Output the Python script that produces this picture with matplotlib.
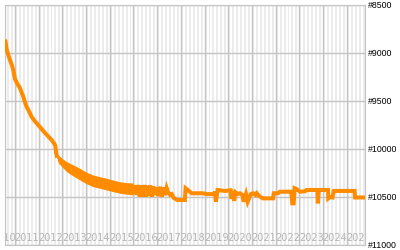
import numpy as np
import matplotlib.pyplot as plt

# rank history (decimal years)
smooth_years = [2010.58, 2010.60, 2010.65, 2010.72, 2010.79, 2010.86, 2010.93, 2011.00,
                2011.10, 2011.21, 2011.28, 2011.35, 2011.42, 2011.49, 2011.60, 2011.70,
                2011.84, 2011.98, 2012.12, 2012.27, 2012.41, 2012.55, 2012.66, 2012.70,
                2012.74, 2012.78]
smooth_ranks = [8860, 8880, 8960, 9020, 9073, 9120, 9177, 9270,
                9320, 9365, 9410, 9455, 9510, 9559, 9610, 9664,
                9710, 9750, 9790, 9833, 9870, 9906, 9945, 9965,
                10040, 10090]

# noisy stretch, drawn as an envelope
band_years = [2012.76, 2012.83, 2013.00, 2013.18, 2013.45, 2013.74, 2014.00, 2014.30,
              2014.60, 2014.87, 2015.15, 2015.43, 2015.70, 2016.00]
band_top = [10060, 10063, 10100, 10132, 10165, 10201, 10240, 10271,
            10290, 10305, 10325, 10341, 10350, 10354]
band_bottom = [10090, 10146, 10190, 10236, 10280, 10323, 10360, 10393,
               10410, 10427, 10445, 10461, 10470, 10479]

tail_years = [2015.98, 2016.03, 2016.08, 2016.15, 2016.20, 2016.27, 2016.33, 2016.40,
              2016.46, 2016.52, 2016.58, 2016.65, 2016.71, 2016.78, 2016.84, 2016.91,
              2016.97, 2017.05, 2017.12, 2017.20, 2017.26, 2017.33, 2017.40, 2017.47,
              2017.55, 2017.62, 2017.70, 2017.85, 2018.03, 2018.17, 2018.20, 2018.38,
              2018.45, 2018.93, 2019.10, 2019.40, 2019.44, 2019.48, 2019.55, 2019.86,
              2020.10, 2020.14, 2020.18, 2020.25, 2020.30, 2020.40, 2020.49, 2020.60,
              2020.65, 2020.75, 2020.82, 2020.95, 2021.05, 2021.15, 2021.20, 2021.34,
              2021.46, 2021.89, 2021.92, 2022.10, 2022.18, 2022.65, 2022.67, 2022.70,
              2022.76, 2022.80, 2022.89, 2023.03, 2023.24, 2023.31, 2023.76, 2023.78,
              2023.82, 2024.21, 2024.22, 2024.29, 2024.40, 2024.45, 2025.33, 2025.35,
              2025.80]
tail_ranks = [10400, 10470, 10380, 10479, 10375, 10497, 10380, 10497,
              10375, 10497, 10385, 10490, 10380, 10497, 10390, 10479,
              10400, 10490, 10393, 10497, 10400, 10480, 10406, 10458,
              10479, 10470, 10510, 10531, 10531, 10531, 10409, 10445,
              10461, 10461, 10470, 10470, 10445, 10549, 10427, 10437,
              10430, 10520, 10440, 10540, 10450, 10470, 10461, 10479,
              10549, 10470, 10549, 10470, 10461, 10479, 10460, 10497,
              10514, 10514, 10461, 10461, 10445, 10445, 10480, 10566,
              10566, 10409, 10420, 10445, 10440, 10427, 10427, 10566,
              10427, 10427, 10514, 10500, 10505, 10437, 10437, 10505,
              10505]

rank_ticks = [8500, 9000, 9500, 10000, 10500, 11000]
years = list(range(2010, 2026))

orange = '#ff8c00'
grid = '#c4c4c4'

fig = plt.figure(figsize=(4, 2.5), dpi=100)
ax = fig.add_axes([0.0125, 0.02, 0.9, 0.96])
x0, x1 = 2010.58, 2025.77
ax.set_xlim(x0, x1)
ax.set_ylim(11000, 8500)

# alternating month stripes
for y in range(2010, 2026):
    for m in range(0, 12, 2):
        ax.axvspan(y + m / 12, y + (m + 1) / 12, color='#ececec', lw=0, zorder=0)

for r in rank_ticks:
    ax.axhline(r, color=grid, lw=1, zorder=1)
for y in years[1:]:
    ax.axvline(y, color=grid, lw=1, zorder=1)

for y in years:
    ax.text(y + 0.5, 10930, str(y), ha='center', va='center', fontsize=7,
            color='#b4b4b4', clip_on=True, zorder=2)

ax.plot(smooth_years, smooth_ranks, color=orange, lw=2.9, zorder=3, solid_capstyle='butt')
ax.fill_between(band_years, band_top, band_bottom, color=orange, lw=0, zorder=3)
ax.plot(tail_years, tail_ranks, color=orange, lw=2.9, zorder=3, solid_joinstyle='miter')

ax.set_xticks([])
ax.yaxis.tick_right()
ax.set_yticks(rank_ticks)
ax.set_yticklabels(['#%d' % r for r in rank_ticks], fontsize=6.3, family='Liberation Sans')
ax.tick_params(axis='y', length=0, pad=2)
for s in ax.spines.values():
    s.set_color(grid)

fig.savefig('out.png', dpi=100)
